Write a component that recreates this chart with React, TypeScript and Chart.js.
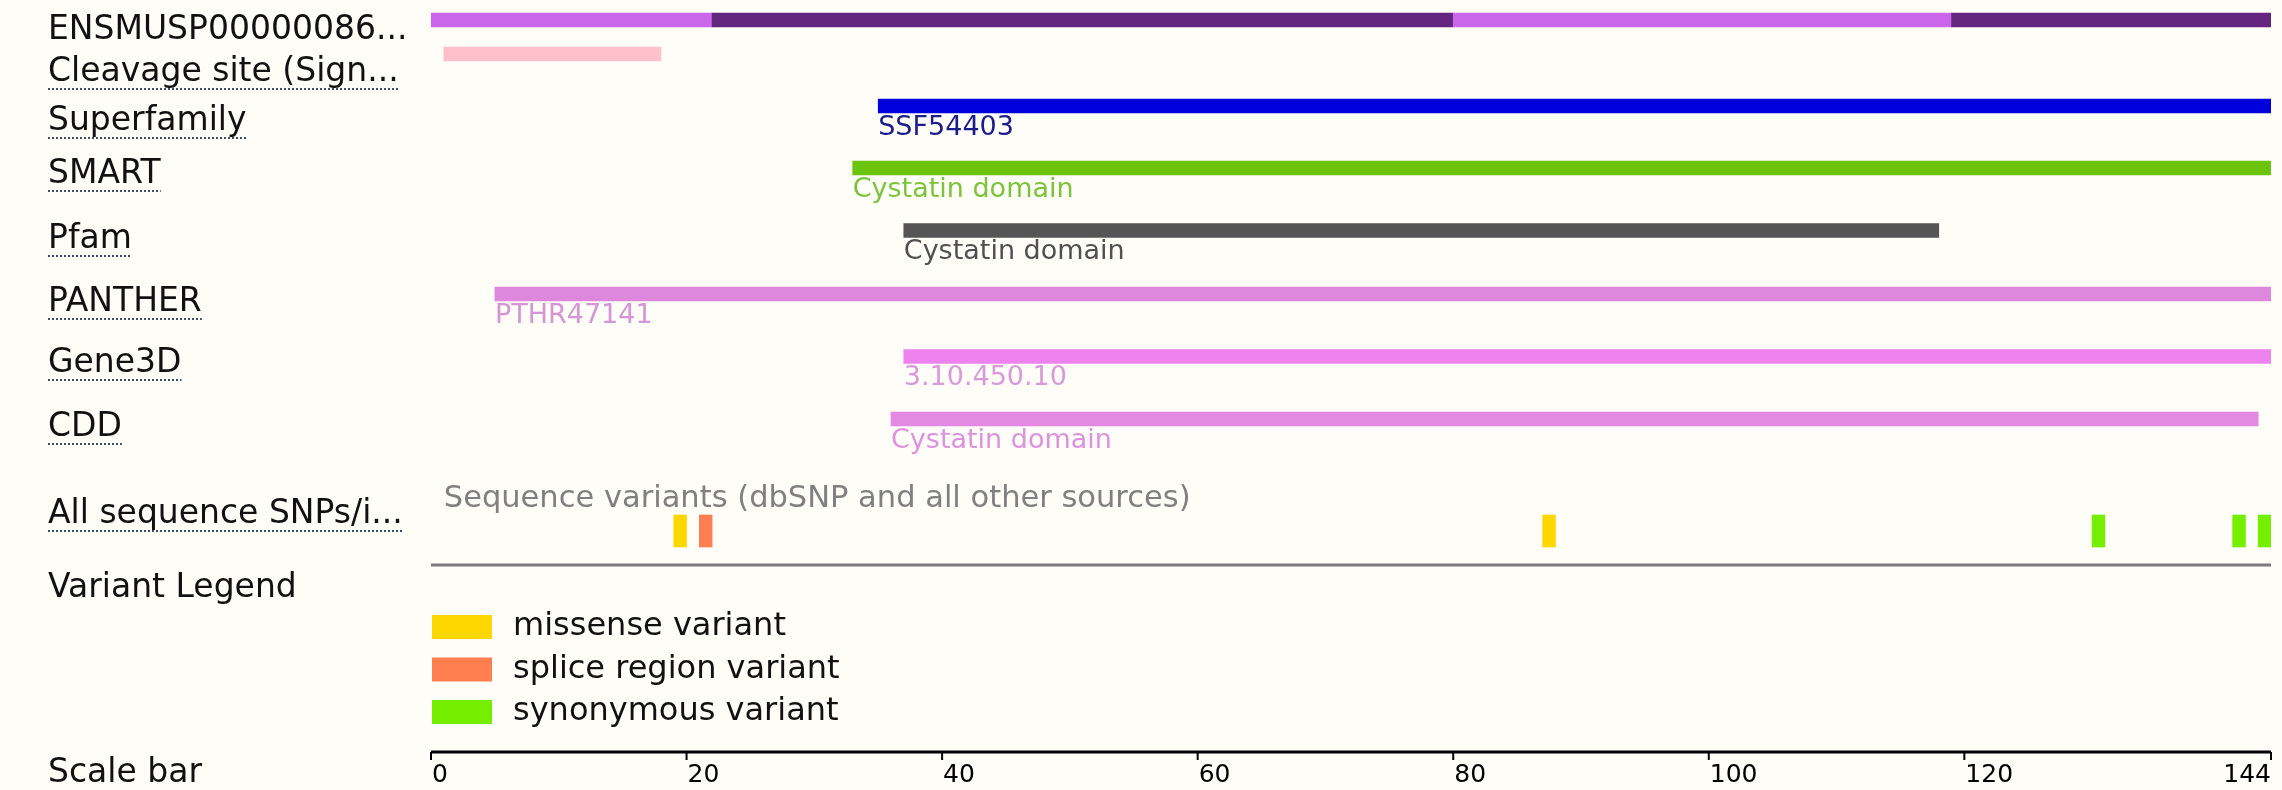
import React, { useEffect, useRef } from "react";
import { Chart, registerables } from "chart.js";

Chart.register(...registerables);

// ---------------- DATA ----------------
const proteinLength = 144;

const trackLabels = [
  "ENSMUSP00000086...",
  "Cleavage site (Sign...",
  "Superfamily",
  "SMART",
  "Pfam",
  "PANTHER",
  "Gene3D",
  "CDD",
  "All sequence SNPs/i...",
  "Variant Legend",
  "Scale bar",
];
const underlinedTracks = [false, true, true, true, true, true, true, true, true, false, false];

// exon segments of the protein (alternating shades)
const exonStarts = [0, 22, 80, 119];
const exonEnds = [22, 80, 119, 144];

// domain / feature tracks
const featureStarts = [1, 35, 33, 37, 5, 37, 36];
const featureEnds = [18, 144, 144, 118, 144, 144, 143];
const featureNames = ["", "SSF54403", "Cystatin domain", "Cystatin domain", "PTHR47141", "3.10.450.10", "Cystatin domain"];

// variants
const variantPositions = [19, 21, 87, 130, 141, 143];
const variantTypes = [
  "missense variant",
  "splice region variant",
  "missense variant",
  "synonymous variant",
  "synonymous variant",
  "synonymous variant",
];
const legendTypes = ["missense variant", "splice region variant", "synonymous variant"];
const snpTrackTitle = "Sequence variants (dbSNP and all other sources)";

const scaleTicks = [0, 20, 40, 60, 80, 100, 120, 144];

// ---------------- STYLE / LAYOUT ----------------
const W = 2282;
const H = 790;
const BG = "#fefdf8";
const exonColors = ["#c966ea", "#64257f"];
const featureColors = ["#ffc0cb", "#0000dd", "#6cc40f", "#555555", "#dd88dd", "#ee82ee", "#e388e3"];
const featureTextColors = ["#ffc0cb", "#1c1c8c", "#7cc43a", "#505050", "#d496d4", "#d99ad9", "#de92de"];
const variantColorMap: Record<string, string> = {
  "missense variant": "#ffd700",
  "splice region variant": "#ff7f50",
  "synonymous variant": "#76ee00",
};
// vertical layout (index-axis units = px from top)
const rowCenters = [20, 54, 106, 168, 230.5, 294, 356.5, 419];
const snpRowCenter = 531;
const labelCenters = [30, 72, 121, 174, 239, 302, 363, 427, 514, 588, 773];
const FONT = "'DejaVu Sans', sans-serif";

export default function App() {
  const ref = useRef<HTMLCanvasElement | null>(null);

  useEffect(() => {
    const canvas = ref.current;
    if (!canvas) return;

    const datasets: any[] = [];
    datasets.push({
      label: "protein",
      data: exonStarts.map((s, i) => ({ x: [s, exonEnds[i]], y: rowCenters[0] })),
      backgroundColor: exonStarts.map((_, i) => exonColors[i % 2]),
      barThickness: 14,
      grouped: false,
      borderSkipped: false,
    });
    featureStarts.forEach((s, i) => {
      datasets.push({
        label: trackLabels[i + 1],
        data: [{ x: [s, featureEnds[i]], y: rowCenters[i + 1] }],
        backgroundColor: featureColors[i],
        barThickness: 14,
        grouped: false,
        featureIndex: i,
      });
    });
    datasets.push({
      label: "variants",
      data: variantPositions.map((p) => ({ x: [p, p + 1], y: snpRowCenter })),
      backgroundColor: variantTypes.map((t) => variantColorMap[t]),
      barThickness: 32,
      grouped: false,
    });

    const drawPlugin = {
      id: "ensemblDecor",
      beforeDraw(chart: any) {
        const ctx = chart.ctx;
        ctx.save();
        ctx.fillStyle = BG;
        ctx.fillRect(0, 0, chart.width, chart.height);
        ctx.restore();
      },
      afterDatasetsDraw(chart: any) {
        const ctx = chart.ctx;
        const xs = chart.scales.x;
        const x0 = xs.getPixelForValue(0);
        const xEnd = xs.getPixelForValue(proteinLength);
        ctx.save();

        // left labels
        ctx.font = `33px ${FONT}`;
        ctx.textBaseline = "middle";
        ctx.textAlign = "left";
        trackLabels.forEach((t, i) => {
          const y = labelCenters[i];
          ctx.fillStyle = "#111111";
          ctx.fillText(t, 48, y);
          if (underlinedTracks[i]) {
            const w = ctx.measureText(t).width;
            ctx.strokeStyle = "#3d4d66";
            ctx.lineWidth = 2;
            ctx.setLineDash([2, 2]);
            ctx.beginPath();
            ctx.moveTo(48, y + 17);
            ctx.lineTo(48 + w, y + 17);
            ctx.stroke();
            ctx.setLineDash([]);
          }
        });

        // feature names under bars
        ctx.font = `27px ${FONT}`;
        ctx.textBaseline = "top";
        chart.data.datasets.forEach((ds: any, di: number) => {
          if (ds.featureIndex === undefined) return;
          const name = featureNames[ds.featureIndex];
          if (!name) return;
          const el = chart.getDatasetMeta(di).data[0];
          const left = Math.min(el.x, el.base);
          ctx.fillStyle = featureTextColors[ds.featureIndex];
          ctx.fillText(name, left, el.y + el.height / 2 + 1);
        });

        // SNP track title and baseline
        ctx.font = `30.5px ${FONT}`;
        ctx.textBaseline = "middle";
        ctx.fillStyle = "#808080";
        ctx.fillText(snpTrackTitle, xs.getPixelForValue(1), 499);
        ctx.strokeStyle = "#7d7d7d";
        ctx.lineWidth = 3;
        ctx.beginPath();
        ctx.moveTo(x0, 565);
        ctx.lineTo(xEnd, 565);
        ctx.stroke();

        // variant legend
        ctx.font = `32px ${FONT}`;
        legendTypes.forEach((t, i) => {
          const cy = 627 + i * 42.5;
          ctx.fillStyle = variantColorMap[t];
          ctx.fillRect(x0 + 1, cy - 12, 60, 24);
          ctx.fillStyle = "#111111";
          ctx.fillText(t, x0 + 82, cy);
        });

        // scale bar
        ctx.strokeStyle = "#000000";
        ctx.lineWidth = 3;
        ctx.beginPath();
        ctx.moveTo(x0, 752);
        ctx.lineTo(xEnd, 752);
        ctx.stroke();
        ctx.lineWidth = 2;
        ctx.font = `25px ${FONT}`;
        ctx.fillStyle = "#000000";
        scaleTicks.forEach((v, i) => {
          const px = xs.getPixelForValue(v);
          ctx.beginPath();
          ctx.moveTo(px, 752);
          ctx.lineTo(px, 760);
          ctx.stroke();
          ctx.textAlign = i === scaleTicks.length - 1 ? "right" : "left";
          ctx.fillText(String(v), px + (i === scaleTicks.length - 1 ? 0 : 1), 775);
        });
        ctx.restore();
      },
    };

    const chart = new Chart(canvas, {
      type: "bar",
      data: { datasets },
      options: {
        indexAxis: "y",
        animation: false,
        responsive: false,
        devicePixelRatio: 1,
        layout: { padding: { left: 431, right: 11, top: 0, bottom: 0 } },
        scales: {
          x: { type: "linear", min: 0, max: proteinLength, display: false, offset: false },
          y: { type: "linear", min: 0, max: H, reverse: true, display: false, offset: false },
        },
        plugins: { legend: { display: false }, tooltip: { enabled: false } },
        events: [],
      } as any,
      plugins: [drawPlugin],
    });
    return () => chart.destroy();
  }, []);

  return (
    <div style={{ position: "absolute", left: 0, top: 0, width: W, height: H, background: BG }}>
      <canvas ref={ref} width={W} height={H} style={{ display: "block", width: W, height: H }} />
    </div>
  );
}
